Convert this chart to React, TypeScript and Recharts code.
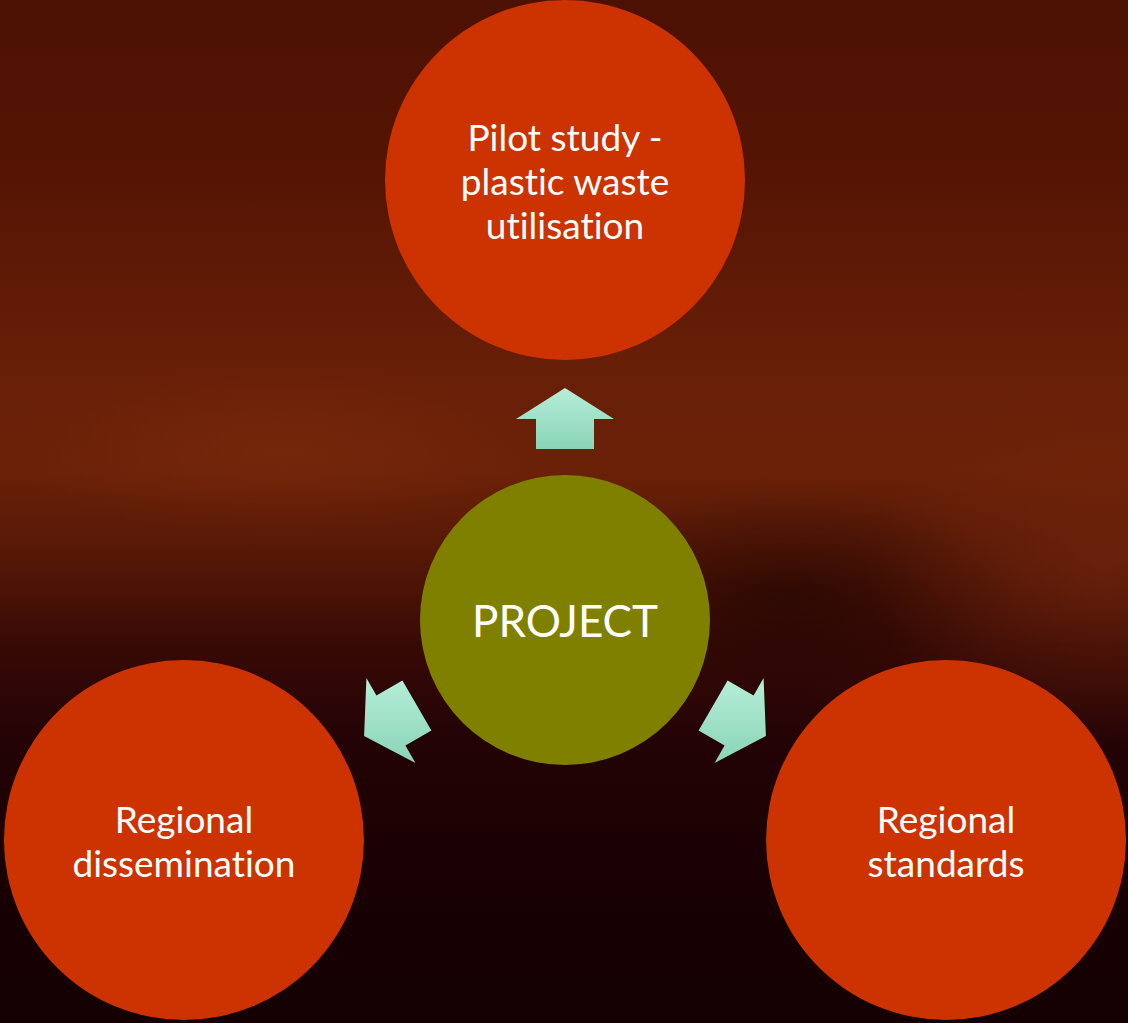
import { ScatterChart, Scatter, XAxis, YAxis } from 'recharts';

// diagram nodes: hub in the middle, three satellites around it
const hubLabel = ['PROJECT'];
const satelliteLabels = [
  ['Pilot study -', 'plastic waste', 'utilisation'],
  ['Regional', 'dissemination'],
  ['Regional', 'standards'],
];
const satelliteAngles = [-90, 150, 30]; // degrees, screen coords
const satelliteDistance = 440;
const arrowDistance = 201;

const W = 1128;
const H = 1023;
const HUB = { x: 565, y: 620 };

const polar = (angle: number, dist: number) => ({
  x: HUB.x + dist * Math.cos((angle * Math.PI) / 180),
  y: HUB.y + dist * Math.sin((angle * Math.PI) / 180),
});

const hubData = [{ ...HUB, lines: hubLabel }];
const satelliteData = satelliteLabels.map((lines, i) => ({
  ...polar(satelliteAngles[i], satelliteDistance),
  lines,
}));
const arrowData = satelliteAngles.map((angle) => ({
  ...polar(angle, arrowDistance),
  angle,
}));

const font = "Lato, 'Open Sans', sans-serif";

function Node(props: any) {
  const { cx, cy, payload, r, fill, fontSize, lineHeight } = props;
  const lines: string[] = payload.lines;
  const start = -((lines.length - 1) * lineHeight) / 2;
  return (
    <g>
      <circle cx={cx} cy={cy} r={r} fill={fill} />
      <text
        x={cx}
        y={cy}
        textAnchor="middle"
        fill="#ffffff"
        fontFamily={font}
        fontSize={fontSize}
        style={{ fontVariantLigatures: 'none', fontFeatureSettings: '"liga" 0' }}
      >
        {lines.map((l, i) => (
          <tspan key={i} x={cx} y={cy + start + i * lineHeight} dominantBaseline="central">
            {l}
          </tspan>
        ))}
      </text>
    </g>
  );
}

// arrow outline pointing up, centred on origin
const arrowOutline = [
  [0, -31],
  [49, 0],
  [29, 0],
  [29, 30],
  [-29, 30],
  [-29, 0],
  [-49, 0],
];

function Arrow(props: any) {
  const { cx, cy, payload } = props;
  const t = ((payload.angle + 90) * Math.PI) / 180;
  const c = Math.cos(t);
  const s = Math.sin(t);
  const pts = arrowOutline
    .map(([x, y]) => `${cx + x * c - y * s},${cy + x * s + y * c}`)
    .join(' ');
  return <polygon points={pts} fill="url(#arrowFill)" />;
}

export default function App() {
  return (
    <div
      style={{
        position: 'fixed',
        left: 0,
        top: 0,
        width: W,
        height: H,
        background:
          'radial-gradient(ellipse 35% 12% at 25% 44%, rgba(140,50,15,0.35), rgba(140,50,15,0) 70%),' +
          'radial-gradient(ellipse 30% 25% at 98% 56%, rgba(130,45,15,0.45), rgba(130,45,15,0) 70%),' +
          'radial-gradient(ellipse 30% 15% at 70% 58%, rgba(20,0,0,0.5), rgba(20,0,0,0) 70%),' +
          'linear-gradient(180deg, #4c1103 0%, #561504 18%, #681f07 36%, #6a2108 46%, #541706 55%, #380a05 63%, #240306 72%, #1a0103 84%, #140002 100%)',
      }}
    >
      <ScatterChart width={W} height={H} margin={{ top: 0, right: 0, bottom: 0, left: 0 }}>
        <defs>
          <linearGradient id="arrowFill" x1="0" y1="0" x2="0" y2="1">
            <stop offset="0%" stopColor="#b6eed8" />
            <stop offset="100%" stopColor="#8ad4b8" />
          </linearGradient>
        </defs>
        <XAxis type="number" dataKey="x" domain={[0, W]} hide />
        <YAxis type="number" dataKey="y" domain={[0, H]} reversed hide />
        <Scatter
          data={arrowData}
          isAnimationActive={false}
          shape={(p: any) => <Arrow {...p} />}
        />
        <Scatter
          data={satelliteData}
          isAnimationActive={false}
          shape={(p: any) => (
            <Node {...p} r={180} fill="#cc3300" fontSize={37} lineHeight={44} />
          )}
        />
        <Scatter
          data={hubData}
          isAnimationActive={false}
          shape={(p: any) => (
            <Node {...p} r={145} fill="#808000" fontSize={44} lineHeight={44} />
          )}
        />
      </ScatterChart>
    </div>
  );
}
